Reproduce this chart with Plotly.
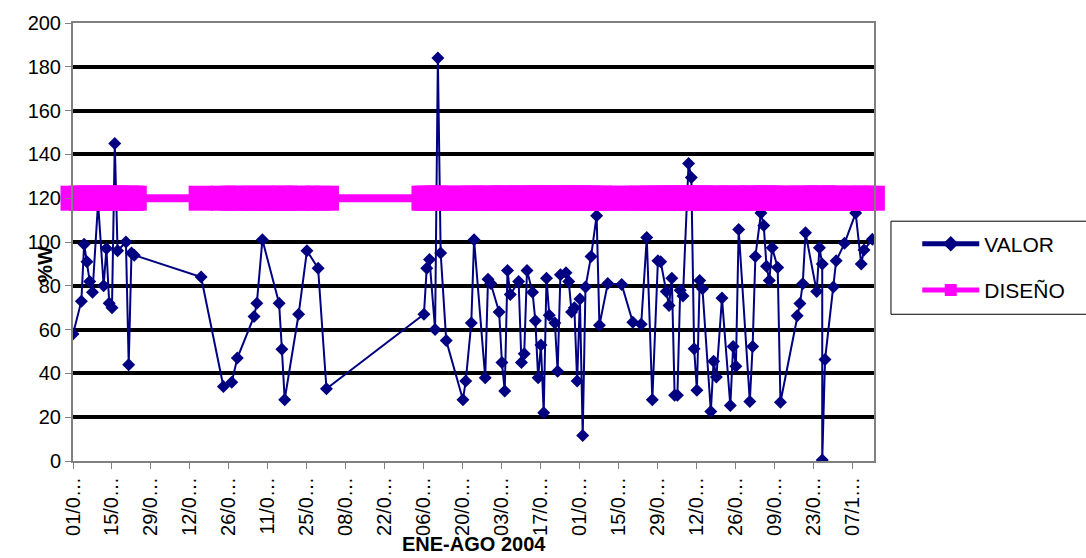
import datetime as dt
import plotly.graph_objects as go

dias = [0, 3, 4, 5, 6, 7, 9, 11, 12, 13, 14, 15, 16, 19, 20, 21, 22,
        46, 54, 57, 59, 65, 66, 68, 74, 75, 76, 81, 84, 88, 91,
        126, 127, 128, 130, 131, 132, 134, 140, 141, 143, 144, 148, 149, 150,
        153, 154, 155, 156, 157, 160, 161, 162, 163, 165, 166, 167, 168, 169,
        170, 171, 173, 174, 175, 177, 178, 179, 180, 181, 182, 183, 184, 186,
        188, 189, 192, 197, 201, 204, 206, 208, 210, 211, 213, 214, 215, 216,
        217, 218, 219, 221, 222, 223, 224, 225, 226, 229, 230, 231, 233, 236,
        237, 238, 239, 243, 244, 245, 247, 248, 249, 250, 251, 253, 254, 260,
        261, 262, 263, 267, 268, 269, 269, 270, 273, 274, 277, 281, 283, 284, 287]

valor = [58, 73, 99, 91, 82, 77, 118, 80, 97, 72, 70, 145, 96, 100, 44, 95, 94,
         84, 34, 36, 47, 66, 72, 101, 72, 51, 28, 67, 96, 88, 33,
         67, 88, 92, 60, 184, 95, 55, 28, 36.5, 63, 101, 38, 83, 81,
         68, 45, 32, 87, 76, 82, 45, 49, 87, 77, 64, 38, 53, 22,
         83.5, 66.6, 63, 41, 85, 86, 82, 68, 70, 36.5, 74, 11.7, 79.4, 93.4,
         112, 62, 81, 80.6, 63.3, 62.4, 102, 28, 91.4, 91, 77.4, 71, 83.5, 30,
         30, 78, 75.3, 135.8, 129.5, 51.3, 32.3, 82.4, 78.6, 22.6, 45.6, 38.3, 74.4, 25.3,
         52.3, 43.3, 105.7, 27.2, 52.3, 93.4, 113.2, 107.5, 88.9, 82.4, 97.4, 88.4, 26.8, 66.3,
         71.9, 80.9, 104.2, 77.4, 97.4, 89.9, 0.4, 46.3, 79.4, 91.4, 99.4, 113.2, 89.9, 96.4, 101.2]

diseno_valor = 120

inicio = dt.date(2004, 1, 1)
fechas = [(inicio + dt.timedelta(days=d)).isoformat() for d in dias]
diseno = [diseno_valor] * len(fechas)

# x tick positions every 14 days and their (truncated) labels
tick_dias = list(range(0, 281, 14))
tick_fechas = [(inicio + dt.timedelta(days=d)).isoformat() for d in tick_dias]
tick_textos = [(inicio + dt.timedelta(days=d)).strftime("%d/%m")[:4] + "\u2026" for d in tick_dias]

FONT = "Arial, 'Liberation Sans', sans-serif"

fig = go.Figure()
fig.add_trace(go.Scatter(
    x=fechas, y=valor, name="VALOR", mode="lines+markers",
    line=dict(color="#000080", width=2),
    marker=dict(symbol="diamond", size=10, color="#000080"),
    legendgroup="a",
))
fig.add_trace(go.Scatter(
    x=fechas, y=diseno, name="DISEÑO", mode="lines+markers",
    line=dict(color="#FF00FF", width=8),
    marker=dict(symbol="square", size=25, color="#FF00FF"),
    cliponaxis=False, legendgroup="b",
))

fig.update_layout(
    width=1086, height=558,
    margin=dict(l=73, r=212, t=19, b=97),
    paper_bgcolor="white", plot_bgcolor="white",
    font=dict(family=FONT, size=20, color="black"),
    showlegend=True,
    legend=dict(
        x=1.054, y=0.542, xanchor="left", yanchor="top",
        borderwidth=0, bgcolor="rgba(0,0,0,0)",
        font=dict(family=FONT, size=21, color="black"),
        traceorder="grouped", tracegroupgap=16,
        itemsizing="constant", itemwidth=57,
    ),
    shapes=[
        # legend frame (its right side runs past the picture edge)
        dict(type="rect", xref="paper", yref="paper",
             x0=1.0212, x1=1.30, y0=0.335, y1=0.5475,
             line=dict(color="black", width=1), fillcolor="rgba(0,0,0,0)",
             layer="below"),
    ],
    xaxis=dict(
        type="date",
        range=["2004-01-01", "2004-10-14 14:00"],
        tickmode="array", tickvals=tick_fechas, ticktext=tick_textos,
        tickangle=-90, ticks="outside", ticklen=6, tickcolor="#808080",
        tickfont=dict(family=FONT, size=20, color="black"),
        showgrid=False, zeroline=False,
        showline=True, linecolor="#808080", linewidth=2, mirror=True,
    ),
    yaxis=dict(
        range=[0, 200], tickvals=list(range(0, 201, 20)),
        ticks="outside", ticklen=6, tickcolor="#808080",
        tickfont=dict(family=FONT, size=20, color="black"),
        showgrid=True, gridcolor="black", gridwidth=4,
        zeroline=False,
        showline=True, linecolor="#808080", linewidth=2, mirror=True,
    ),
    annotations=[
        dict(text="<b>%W</b>", xref="paper", yref="paper", x=-0.035, y=0.45,
             textangle=-90, showarrow=False, xanchor="center", yanchor="middle",
             font=dict(family=FONT, size=20, color="black")),
        dict(text="<b>ENE-AGO 2004</b>", xref="paper", yref="paper", x=0.5, y=-0.19,
             showarrow=False, xanchor="center", yanchor="middle",
             font=dict(family=FONT, size=20, color="black")),
    ],
)

fig.write_html("out.html")
